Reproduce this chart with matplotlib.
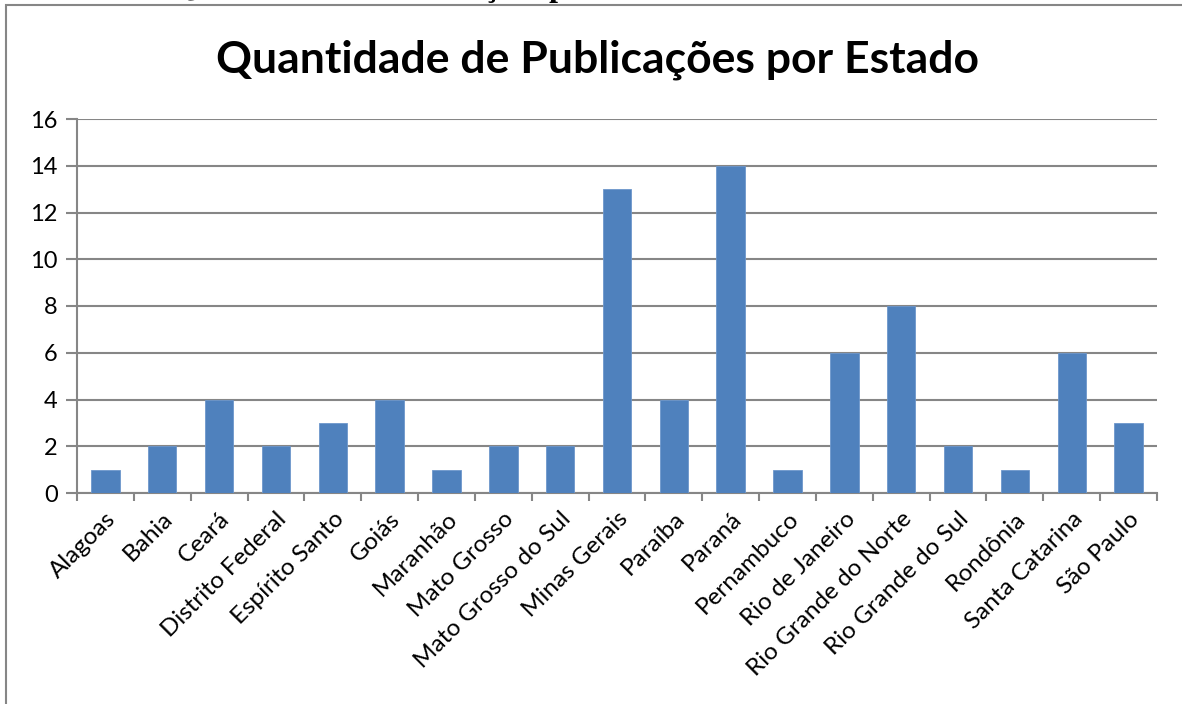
import matplotlib.pyplot as plt
from matplotlib.patches import Rectangle

# === Data ===
estados = ["Alagoas", "Bahia", "Ceará", "Distrito Federal", "Espírito Santo",
           "Goiás", "Maranhão", "Mato Grosso", "Mato Grosso do Sul",
           "Minas Gerais", "Paraíba", "Paraná", "Pernambuco", "Rio de Janeiro",
           "Rio Grande do Norte", "Rio Grande do Sul", "Rondônia",
           "Santa Catarina", "São Paulo"]
publicacoes = [1, 2, 4, 2, 3, 4, 1, 2, 2, 13, 4, 14, 1, 6, 8, 2, 1, 6, 3]
y_ticks = [0, 2, 4, 6, 8, 10, 12, 14, 16]

W, H = 1182, 704
grid_color = "#868686"
bar_color = "#4F81BD"

plt.rcParams['font.family'] = ['Lato', 'DejaVu Sans']

fig = plt.figure(figsize=(W / 100, H / 100), dpi=100)

# === Outer chart frame ===
fig.patches.append(Rectangle((6 / W, -0.05), 1.2, (H - 5) / H + 0.05,
                             transform=fig.transFigure, fill=False,
                             edgecolor=grid_color, linewidth=1.5))

# caption cut off at the top of the page (as in the source scan)
fig.text(10 / W, 1 + 4 / H, "Gráfico 1 – Quantidade de Publicações por Estado",
         family=['Liberation Serif'], fontweight='bold', fontsize=23,
         ha='left', va='baseline')

# === Plot area ===
left, right, top, bottom = 77, 1157, 119, 493
ax = fig.add_axes([left / W, 1 - bottom / H, (right - left) / W, (bottom - top) / H])

x = range(len(estados))
ax.bar(x, publicacoes, width=0.5, color=bar_color, edgecolor="#6d97cc",
       linewidth=0.6, zorder=3)

ax.set_xlim(-0.5, len(estados) - 0.5)
ax.set_ylim(0, 16)
ax.set_yticks(y_ticks)
ax.set_yticklabels([str(v) for v in y_ticks], fontsize=17)
ax.yaxis.grid(True, color=grid_color, linewidth=1.5, zorder=0)

# ticks between categories on the x axis
ax.set_xticks([i - 0.5 for i in range(len(estados) + 1)], minor=False)
ax.set_xticklabels([])
ax.set_xticks(list(x), minor=True)
ax.set_xticklabels(estados, minor=True, rotation=45, ha='right',
                   rotation_mode='anchor', fontsize=17.5)
ax.tick_params(axis='x', which='minor', length=0, pad=11)
ax.tick_params(axis='x', which='major', length=6, width=1.5, color=grid_color,
               direction='out')
ax.tick_params(axis='y', length=8, width=1.5, color=grid_color, pad=6)

for side in ['top', 'right']:
    ax.spines[side].set_visible(False)
for side in ['left', 'bottom']:
    ax.spines[side].set_color(grid_color)
    ax.spines[side].set_linewidth(1.5)

fig.text(597 / W, 1 - 60 / H, "Quantidade de Publicações por Estado",
         fontsize=32, fontweight='bold', ha='center', va='center')

fig.savefig("out.png", dpi=100)
